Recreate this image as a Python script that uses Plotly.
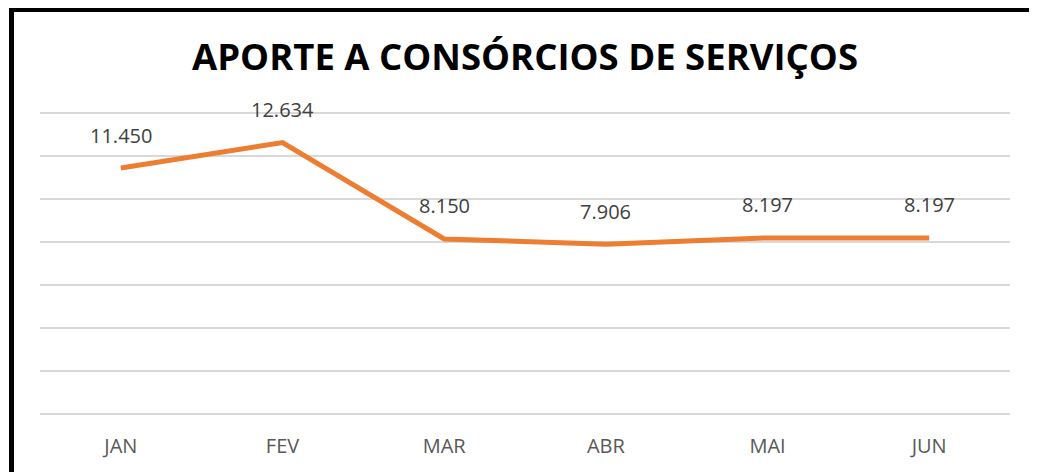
import plotly.graph_objects as go

months = ["JAN", "FEV", "MAR", "ABR", "MAI", "JUN"]
values = [11450, 12634, 8150, 7906, 8197, 8197]
grid_vals = [0, 2000, 4000, 6000, 8000, 10000, 12000, 14000]
title_text = "APORTE A CONSÓRCIOS DE SERVIÇOS"

# the page places the figure 8px from the top-left corner; offsets compensate
OFF = 8
Y_MAX = 14150
L, R_EDGE, B_EDGE = 40 - OFF, 1010 - OFF, 414 - OFF
PH = round(301 * Y_MAX / 14000)
T = B_EDGE - PH
W, H = 1037, 472
PW = R_EDGE - L

def px(x):
    return (x - OFF - L) / PW

def py(y):
    return (B_EDGE - (y - OFF)) / PH

fig = go.Figure()
fig.add_trace(go.Scatter(
    x=months, y=values, mode="lines",
    line=dict(color="#ED7D31", width=5),
    hoverinfo="skip",
))

for m, v in zip(months, values):
    fig.add_annotation(
        x=m, y=v, text=f"{v:,}".replace(",", "."),
        showarrow=False, yshift=33, yanchor="middle",
        font=dict(family="Open Sans, Noto Sans, sans-serif", size=20, color="#404040"),
    )

fig.update_layout(
    width=W, height=H,
    margin=dict(l=L, r=W - R_EDGE, t=T, b=H - B_EDGE),
    paper_bgcolor="white", plot_bgcolor="white",
    showlegend=False,
    separators=",.",
    title=dict(
        text=title_text, x=(525 - OFF) / W, xanchor="center", y=1 - (57 - OFF) / H, yanchor="middle",
        font=dict(family="Open Sans, Noto Sans, sans-serif", size=36.5, color="black", weight="bold"),
    ),
    xaxis=dict(
        type="category", range=[-0.5, 5.5], showgrid=False, showline=False, zeroline=False,
        ticks="", tickfont=dict(family="Open Sans, Noto Sans, sans-serif", size=20, color="#595959"),
        ticklabelstandoff=18,
    ),
    yaxis=dict(
        range=[0, Y_MAX], tickvals=grid_vals,
        showgrid=True, gridcolor="#D9D9D9", gridwidth=1.5,
        zeroline=True, zerolinecolor="#D9D9D9", zerolinewidth=1.5,
        showticklabels=False, ticks="", showline=False,
    ),
    shapes=[
        dict(type="line", xref="paper", yref="paper",
             x0=px(11.5), x1=px(11.5), y0=py(9.5), y1=py(500),
             line=dict(color="black", width=5)),
        dict(type="line", xref="paper", yref="paper",
             x0=px(9), x1=px(1036), y0=py(9.5), y1=py(9.5),
             line=dict(color="black", width=5)),
        dict(type="line", xref="paper", yref="paper",
             x0=px(1036.5), x1=px(1036.5), y0=py(12), y1=py(500),
             line=dict(color="#A6A6A6", width=1.5)),
    ],
)

fig.write_html("out.html")
